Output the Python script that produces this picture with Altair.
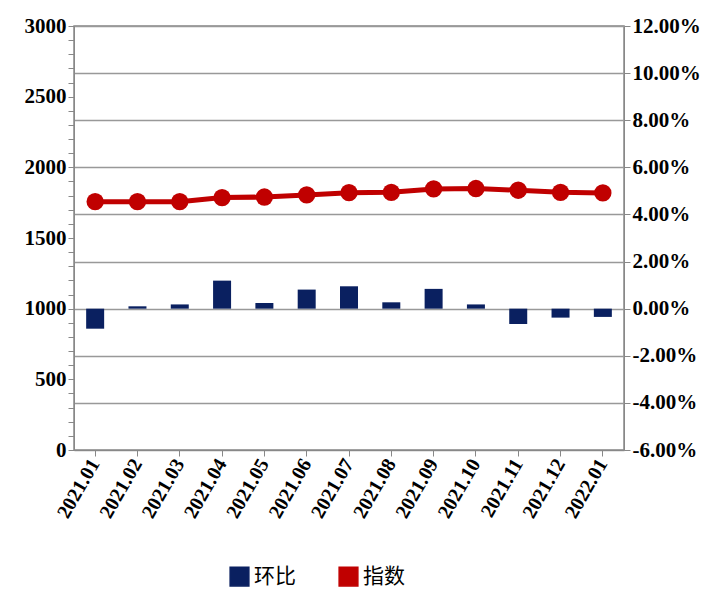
import altair as alt
import pandas as pd

months = ["2021.01","2021.02","2021.03","2021.04","2021.05","2021.06","2021.07",
          "2021.08","2021.09","2021.10","2021.11","2021.12","2022.01"]
mom = [-0.0085,0.0010,0.0018,0.0119,0.0024,0.0081,0.0095,0.0027,0.0084,0.0018,-0.0065,-0.0038,-0.0035]
index = [1757,1757,1757,1786,1790,1805,1821,1823,1847,1850,1838,1823,1819]

df = pd.DataFrame({"month": months, "环比": mom, "指数": index})
font = "Liberation Serif"
color = alt.Color("s:N", title=None,
                  scale=alt.Scale(domain=["环比","指数"], range=["#0a2060","#c00000"]),
                  legend=alt.Legend(orient="none", direction="horizontal", legendX=155, legendY=540,
                                    labelFont="Noto Sans CJK SC", labelFontSize=21,
                                    symbolSize=350, columnPadding=40, symbolType="square"))
x = alt.X("month:N", title=None, sort=months,
          axis=alt.Axis(labelAngle=-60, labelFont=font, labelFontWeight="bold",
                        labelFontSize=20, labelColor="black", domainColor="#888",
                        tickColor="#888", tickSize=6, labelPadding=4))

bars = alt.Chart(df).transform_calculate(s="'环比'").mark_bar(size=18).encode(
    x=x,
    y=alt.Y("环比:Q", title=None, scale=alt.Scale(domain=[-0.06, 0.12]),
            axis=alt.Axis(orient="right", format=".2%", values=[i/100 for i in range(-6, 13, 2)],
                          labelExpr="replace(datum.label, '\u2212', '-')",
                          labelFont=font, labelFontWeight="bold", labelFontSize=21,
                          labelColor="black", grid=True, gridColor="#999", gridWidth=1.5,
                          domainColor="#888", tickColor="#888", tickSize=6)),
    color=color)

line = alt.Chart(df).transform_calculate(s="'指数'").mark_line(
    strokeWidth=5, point=alt.OverlayMarkDef(size=300, filled=True, opacity=1)).encode(
    x=x,
    y=alt.Y("指数:Q", title=None, scale=alt.Scale(domain=[0, 3000]),
            axis=alt.Axis(orient="left", values=list(range(0, 3001, 100)),
                          labelExpr="datum.value % 500 == 0 ? datum.label : ''",
                          format="d", labelFont=font, labelFontWeight="bold",
                          labelFontSize=21, labelColor="black", grid=False,
                          domainColor="#888", tickColor="#888", tickSize=6)),
    color=color)

chart = alt.layer(bars, line).resolve_scale(y="independent").properties(
    width=550, height=424,
    padding={"left": 16, "top": 7, "right": 5, "bottom": 5}
).configure_view(stroke="#888", strokeWidth=1.5)

chart.save("out.html", embed_options={"renderer": "svg", "actions": False})
